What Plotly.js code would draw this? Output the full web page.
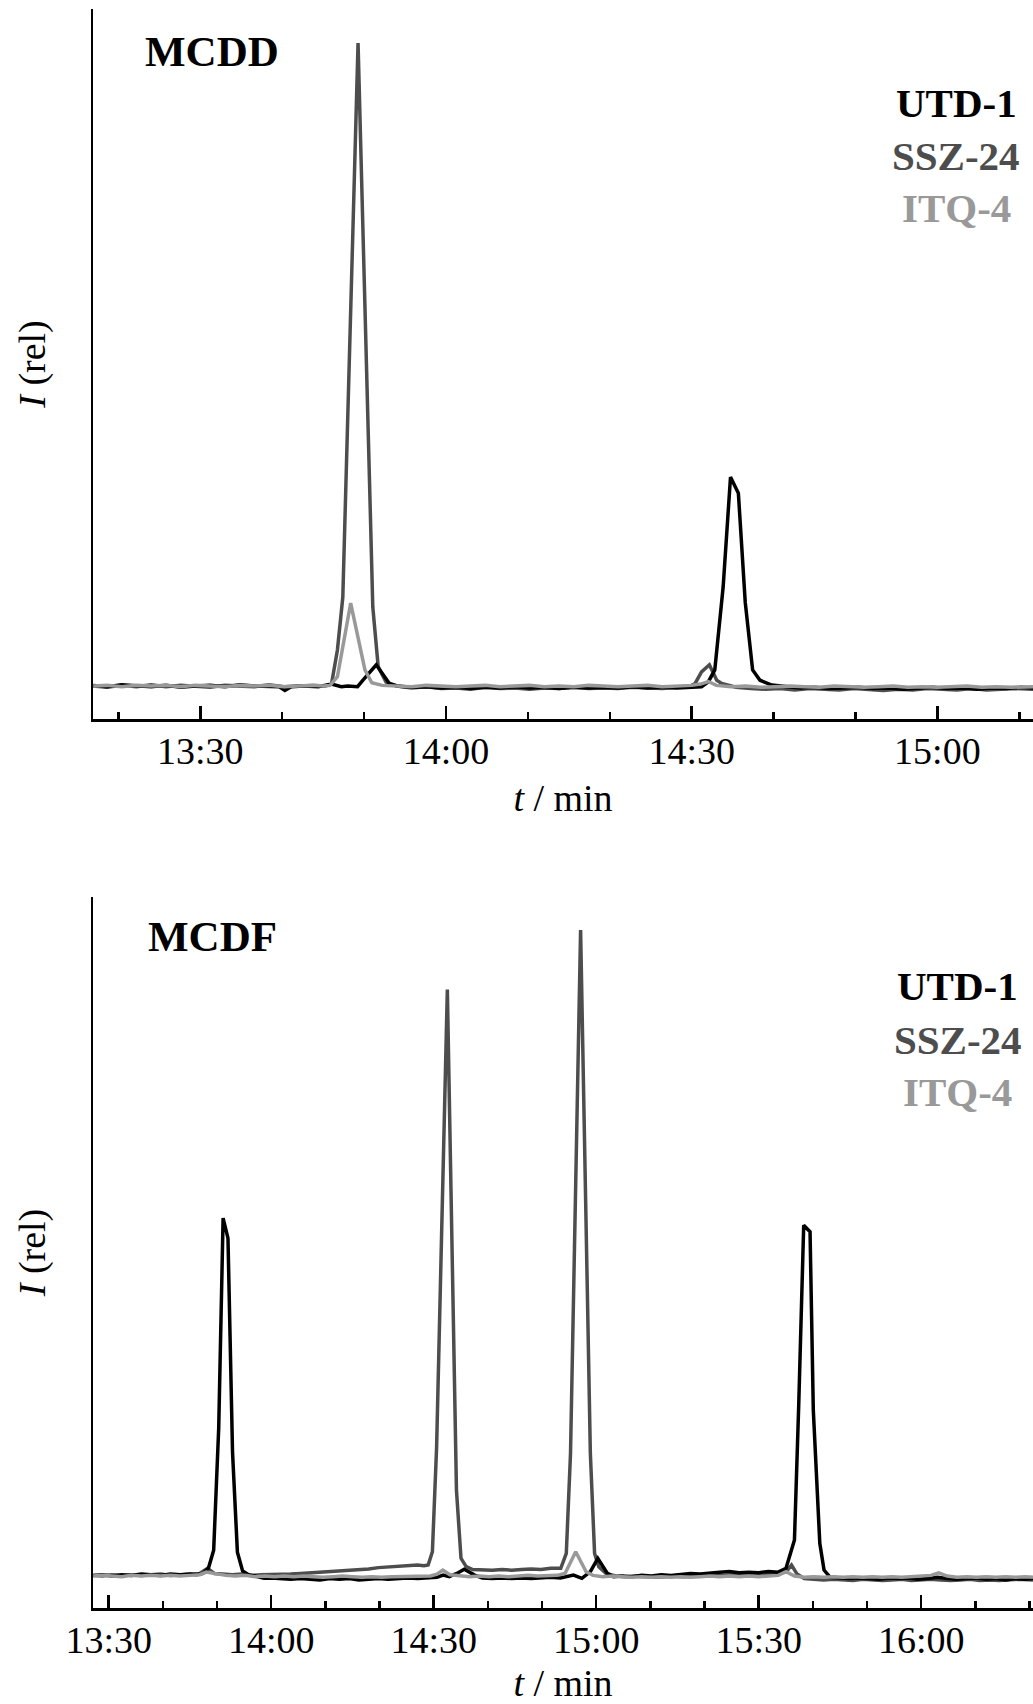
<!DOCTYPE html>
<html><head><meta charset="utf-8">
<script src="https://cdn.plot.ly/plotly-3.0.1.min.js"></script>
<style>html,body{margin:0;padding:0;background:#fff}#chart{width:1033px;height:1704px}</style>
</head><body><div id="chart"></div>
<script>
// ---------- MCDD (top panel), time in minutes ----------
const mcddSszT = [13.282,13.31,13.34,13.37,13.40,13.43,13.46,13.49,13.52,13.55,13.58,13.61,13.64,13.67,13.70,13.73,13.754,13.767,13.779,13.790,13.821,13.851,13.862,13.870,13.878,13.900,13.93,13.96,13.99,14.02,14.05,14.08,14.11,14.14,14.17,14.20,14.23,14.26,14.29,14.32,14.35,14.38,14.41,14.44,14.47,14.495,14.507,14.520,14.536,14.551,14.561,14.59,14.62,14.65,14.68,14.71,14.74,14.77,14.80,14.83,14.86,14.89,14.92,14.95,14.98,15.01,15.04,15.07,15.10,15.13,15.16,15.195];
const mcddSszI = [0.0,-0.2,0.1,-0.1,0.2,-0.1,0.1,0.0,-0.2,0.1,0.0,-0.1,0.2,-0.1,0.0,0.1,0.0,0.3,5.6,13.8,100,12.3,3.0,1.7,0.6,0.0,-0.3,-0.1,-0.4,-0.3,-0.5,-0.2,-0.4,-0.3,-0.5,-0.3,-0.4,-0.2,-0.4,-0.3,-0.4,-0.2,-0.3,-0.4,-0.2,-0.1,0.4,2.2,3.3,0.9,0.4,-0.2,-0.4,-0.5,-0.4,-0.6,-0.4,-0.5,-0.6,-0.4,-0.5,-0.7,-0.5,-0.6,-0.4,-0.5,-0.6,-0.4,-0.6,-0.5,-0.4,-0.5];

const mcddUtdT = [13.282,13.31,13.34,13.37,13.40,13.43,13.46,13.49,13.52,13.55,13.58,13.61,13.64,13.66,13.672,13.685,13.71,13.74,13.767,13.787,13.800,13.820,13.831,13.858,13.885,13.90,13.93,13.96,13.99,14.02,14.05,14.08,14.11,14.14,14.17,14.20,14.23,14.26,14.29,14.32,14.35,14.38,14.41,14.44,14.47,14.50,14.520,14.534,14.547,14.564,14.579,14.595,14.609,14.624,14.639,14.663,14.69,14.72,14.75,14.78,14.81,14.84,14.87,14.90,14.93,14.96,14.99,15.02,15.05,15.08,15.11,15.14,15.17,15.195];
const mcddUtdI = [0.1,-0.1,0.2,0.0,-0.1,0.1,-0.2,0.0,0.1,-0.1,0.2,0.0,-0.1,-0.1,-0.7,-0.1,0.0,-0.1,0.3,-0.1,0.0,-0.1,0.9,3.3,0.35,0.0,-0.2,-0.1,-0.3,-0.2,-0.4,-0.2,-0.3,-0.1,-0.3,-0.2,-0.4,-0.2,-0.3,-0.2,-0.3,-0.1,-0.3,-0.2,-0.3,-0.2,-0.1,0.67,2.5,15.4,32.5,30.0,13.0,2.5,0.9,0.15,-0.1,-0.3,-0.2,-0.4,-0.3,-0.2,-0.4,-0.3,-0.5,-0.3,-0.2,-0.4,-0.3,-0.5,-0.3,-0.4,-0.2,-0.3];

const mcddItqT = [13.282,13.31,13.34,13.37,13.40,13.43,13.46,13.49,13.52,13.55,13.58,13.61,13.64,13.67,13.70,13.73,13.750,13.764,13.779,13.806,13.835,13.849,13.87,13.90,13.93,13.96,13.99,14.02,14.05,14.08,14.11,14.14,14.17,14.20,14.23,14.26,14.29,14.32,14.35,14.38,14.41,14.44,14.47,14.50,14.518,14.534,14.55,14.58,14.61,14.64,14.67,14.70,14.73,14.76,14.79,14.82,14.85,14.88,14.91,14.94,14.97,15.00,15.03,15.06,15.09,15.12,15.15,15.195];
const mcddItqI = [0.0,0.1,-0.1,0.1,0.0,0.1,-0.1,0.1,0.0,-0.1,0.1,0.0,0.1,-0.1,0.0,0.1,0.0,0.1,1.45,12.9,2.5,0.5,0.1,0.0,-0.1,0.1,0.0,-0.1,0.0,0.1,-0.1,0.0,0.1,-0.1,0.0,-0.1,0.1,0.0,-0.1,0.0,0.1,-0.1,0.0,0.1,0.3,0.7,0.1,-0.1,0.0,-0.2,-0.1,0.0,-0.1,-0.2,0.0,-0.1,-0.2,-0.1,0.0,-0.2,-0.1,-0.2,-0.1,0.0,-0.2,-0.1,-0.2,-0.1];

// ---------- MCDF (bottom panel), time in minutes ----------
const mcdfSszT = [13.452,13.48,13.51,13.54,13.57,13.60,13.63,13.66,13.69,13.72,13.75,13.78,13.804,13.825,13.85,13.88,13.91,13.94,13.97,14.00,14.03,14.06,14.09,14.12,14.15,14.18,14.21,14.24,14.27,14.30,14.33,14.36,14.39,14.42,14.45,14.47,14.483,14.496,14.509,14.542,14.570,14.584,14.600,14.62,14.65,14.68,14.71,14.74,14.77,14.80,14.83,14.86,14.891,14.908,14.921,14.952,14.982,14.995,15.008,15.03,15.06,15.09,15.12,15.15,15.18,15.21,15.24,15.27,15.30,15.33,15.36,15.39,15.42,15.45,15.48,15.51,15.54,15.565,15.584,15.601,15.618,15.64,15.67,15.70,15.73,15.76,15.79,15.82,15.85,15.88,15.91,15.94,15.97,16.00,16.03,16.06,16.09,16.12,16.15,16.18,16.21,16.24,16.27,16.30,16.344];
const mcdfSszI = [0.1,0.0,0.2,0.1,0.2,0.1,0.2,0.3,0.1,0.2,0.3,0.4,1.19,0.4,0.3,0.2,0.3,0.1,0.2,0.2,0.3,0.3,0.4,0.5,0.6,0.6,0.8,0.9,1.0,1.1,1.3,1.4,1.4,1.5,1.7,1.6,1.7,3.76,20.0,90.8,13.3,2.74,1.44,1.0,0.9,0.9,1.0,0.9,1.0,1.1,1.0,1.2,1.19,3.51,19.0,100,19.0,3.51,1.44,0.4,0.0,-0.1,0.0,-0.1,-0.2,-0.1,0.0,-0.1,0.0,0.1,0.0,0.1,0.2,0.1,0.2,0.1,0.3,0.4,0.6,1.7,0.3,-0.4,-0.5,-0.6,-0.5,-0.6,-0.7,-0.5,-0.6,-0.7,-0.6,-0.5,-0.7,-0.6,-0.5,-0.6,-0.7,-0.6,-0.5,-0.7,-0.6,-0.7,-0.6,-0.5,-0.6];

const mcdfUtdT = [13.452,13.48,13.51,13.54,13.57,13.60,13.63,13.66,13.69,13.72,13.75,13.77,13.790,13.807,13.823,13.8385,13.852,13.867,13.881,13.896,13.912,13.93,13.95,13.978,14.00,14.03,14.06,14.09,14.12,14.15,14.18,14.21,14.24,14.27,14.30,14.33,14.36,14.39,14.42,14.45,14.48,14.51,14.529,14.548,14.575,14.594,14.626,14.65,14.68,14.71,14.74,14.77,14.80,14.83,14.86,14.89,14.911,14.930,14.956,14.982,15.005,15.034,15.053,15.08,15.11,15.14,15.17,15.20,15.23,15.26,15.29,15.32,15.35,15.38,15.41,15.44,15.47,15.50,15.53,15.56,15.584,15.610,15.623,15.6385,15.658,15.668,15.688,15.701,15.72,15.75,15.78,15.81,15.84,15.87,15.90,15.93,15.96,15.99,16.02,16.05,16.08,16.11,16.14,16.17,16.20,16.23,16.26,16.29,16.32,16.344];
const mcdfUtdI = [0.1,0.2,0.0,0.2,0.1,0.3,0.2,0.1,0.3,0.2,0.3,0.2,0.4,1.24,4.0,22.9,55.4,52.3,19.2,3.7,0.8,0.2,0.0,-0.36,-0.3,-0.4,-0.5,-0.4,-0.5,-0.6,-0.4,-0.5,-0.4,-0.6,-0.5,-0.4,-0.5,-0.4,-0.3,-0.4,-0.3,-0.2,0.15,-0.1,0.5,1.04,0.15,-0.3,-0.4,-0.3,-0.4,-0.3,-0.4,-0.3,-0.2,-0.3,-0.1,0.15,-0.36,0.67,2.74,0.42,-0.1,0.0,-0.1,0.1,0.0,0.2,0.1,0.3,0.4,0.3,0.5,0.6,0.7,0.5,0.6,0.5,0.7,0.6,1.19,5.57,26.2,54.3,53.3,25.7,5.06,0.93,-0.2,-0.3,-0.4,-0.3,-0.4,-0.5,-0.3,-0.4,-0.3,-0.5,-0.4,-0.2,-0.4,-0.5,-0.4,-0.3,-0.5,-0.4,-0.6,-0.4,-0.5,-0.4];

const mcdfItqT = [13.452,13.48,13.51,13.54,13.57,13.60,13.63,13.66,13.69,13.72,13.75,13.78,13.80,13.83,13.86,13.89,13.92,13.95,13.98,14.01,14.04,14.07,14.10,14.13,14.16,14.19,14.22,14.25,14.28,14.31,14.34,14.37,14.40,14.43,14.46,14.49,14.51,14.528,14.55,14.58,14.61,14.64,14.67,14.70,14.73,14.76,14.79,14.82,14.85,14.88,14.904,14.937,14.969,14.99,15.02,15.05,15.08,15.11,15.14,15.17,15.20,15.23,15.26,15.29,15.32,15.35,15.38,15.41,15.44,15.47,15.50,15.53,15.56,15.584,15.61,15.64,15.67,15.70,15.73,15.76,15.79,15.82,15.85,15.88,15.91,15.94,15.97,16.00,16.03,16.054,16.08,16.11,16.14,16.17,16.20,16.23,16.26,16.29,16.32,16.344];
const mcdfItqI = [0.0,0.1,0.0,-0.1,0.1,0.0,0.1,0.0,0.1,0.0,0.1,0.2,0.6,0.3,0.1,0.0,0.1,-0.1,0.0,-0.1,0.0,-0.1,0.0,-0.1,-0.2,-0.1,0.0,-0.1,-0.2,-0.1,-0.2,-0.1,-0.1,0.0,-0.1,0.0,0.3,0.93,0.2,0.0,-0.1,0.0,-0.1,0.0,-0.1,0.0,0.1,0.0,0.1,0.1,0.4,3.76,0.67,0.1,-0.1,0.0,-0.1,-0.2,-0.1,-0.2,-0.1,-0.2,-0.1,-0.2,-0.1,0.0,-0.1,0.0,-0.1,0.0,-0.1,0.0,0.1,0.67,0.0,-0.2,-0.1,-0.2,-0.1,-0.2,-0.1,-0.2,-0.1,-0.2,-0.1,-0.2,-0.1,-0.1,0.1,0.5,0.0,-0.2,-0.1,-0.2,-0.1,-0.2,-0.1,-0.2,-0.1,-0.2];

// ---------- ticks & labels ----------
const topTickVals = [13.5, 14.0, 14.5, 15.0];
const topTickText = ['13:30', '14:00', '14:30', '15:00'];
const botTickVals = [13.5, 14.0, 14.5, 15.0, 15.5, 16.0];
const botTickText = ['13:30', '14:00', '14:30', '15:00', '15:30', '16:00'];
const seriesNames = ['UTD-1', 'SSZ-24', 'ITQ-4'];
const seriesColors = ['#000000', '#4d4d4d', '#999999'];
const panelNames = ['MCDD', 'MCDF'];

const FONT = 'Liberation Serif, Times New Roman, Times, serif';

function line(x, y, xa, ya, name, color) {
  return {type: 'scatter', mode: 'lines', x: x, y: y, xaxis: xa, yaxis: ya, name: name,
    line: {color: color, width: 3.5}, showlegend: false, hoverinfo: 'skip'};
}

const data = [
  line(mcddSszT, mcddSszI, 'x', 'y', seriesNames[1], seriesColors[1]),
  line(mcddUtdT, mcddUtdI, 'x', 'y', seriesNames[0], seriesColors[0]),
  line(mcddItqT, mcddItqI, 'x', 'y', seriesNames[2], seriesColors[2]),
  line(mcdfSszT, mcdfSszI, 'x2', 'y2', seriesNames[1], seriesColors[1]),
  line(mcdfUtdT, mcdfUtdI, 'x2', 'y2', seriesNames[0], seriesColors[0]),
  line(mcdfItqT, mcdfItqI, 'x2', 'y2', seriesNames[2], seriesColors[2])
];

function xAxis(range, vals, text, anchor) {
  return {
    domain: [0, 1], anchor: anchor, range: range,
    showline: true, linewidth: 3, linecolor: '#000',
    ticks: 'inside', ticklen: 13, tickwidth: 2.5, tickcolor: '#000',
    tickmode: 'array', tickvals: vals, ticktext: text, ticklabelstandoff: -4,
    minor: {ticks: 'inside', ticklen: 7, tickwidth: 2.5, tickcolor: '#000',
            tickmode: 'linear', tick0: 13.5, dtick: 1 / 6, showgrid: false},
    showgrid: false, zeroline: false,
    tickfont: {family: FONT, size: 38, color: '#000'},
    title: {text: '<i>t</i> / min', font: {family: FONT, size: 38, color: '#000'}, standoff: 14}
  };
}
function yAxis(domain, range, anchor) {
  return {
    domain: domain, anchor: anchor, range: range,
    showline: true, linewidth: 2.5, linecolor: '#000',
    ticks: '', showticklabels: false, showgrid: false, zeroline: false,
    title: {text: '<i>I</i> (rel)', font: {family: FONT, size: 38, color: '#000'}, standoff: 33}
  };
}

function label(text, x, y, color, anchor, size) {
  return {text: '<b>' + text + '</b>', xref: 'paper', yref: 'paper', x: x, y: y,
    xanchor: anchor, yanchor: 'middle', showarrow: false,
    font: {family: FONT, size: size, color: color}};
}

const annotations = [
  label(panelNames[0], 0.0529, 0.9695, '#000', 'left', 43),
  label(seriesNames[0], 0.9181, 0.9396, seriesColors[0], 'center', 41),
  label(seriesNames[1], 0.9181, 0.9085, seriesColors[1], 'center', 41),
  label(seriesNames[2], 0.9181, 0.8779, seriesColors[2], 'center', 41),
  label(panelNames[1], 0.0564, 0.4507, '#000', 'left', 43),
  label(seriesNames[0], 0.9202, 0.4214, seriesColors[0], 'center', 41),
  label(seriesNames[1], 0.9202, 0.3897, seriesColors[1], 'center', 41),
  label(seriesNames[2], 0.9202, 0.3592, seriesColors[2], 'center', 41)
];

const layout = {
  width: 1033, height: 1704,
  margin: {l: 93, r: 0, t: 0, b: 0},
  paper_bgcolor: '#fff', plot_bgcolor: '#fff',
  font: {family: FONT, color: '#000'},
  xaxis: xAxis([13.2816, 15.1946], topTickVals, topTickText, 'y'),
  yaxis: yAxis([0.57805, 0.99472], [-5.13, 105.29], 'x'),
  xaxis2: xAxis([13.4517, 16.344], botTickVals, botTickText, 'y2'),
  yaxis2: yAxis([0.05634, 0.47359], [-4.95, 105.11], 'x2'),
  annotations: annotations
};

Plotly.newPlot('chart', data, layout, {displayModeBar: false, staticPlot: true});
</script></body></html>
